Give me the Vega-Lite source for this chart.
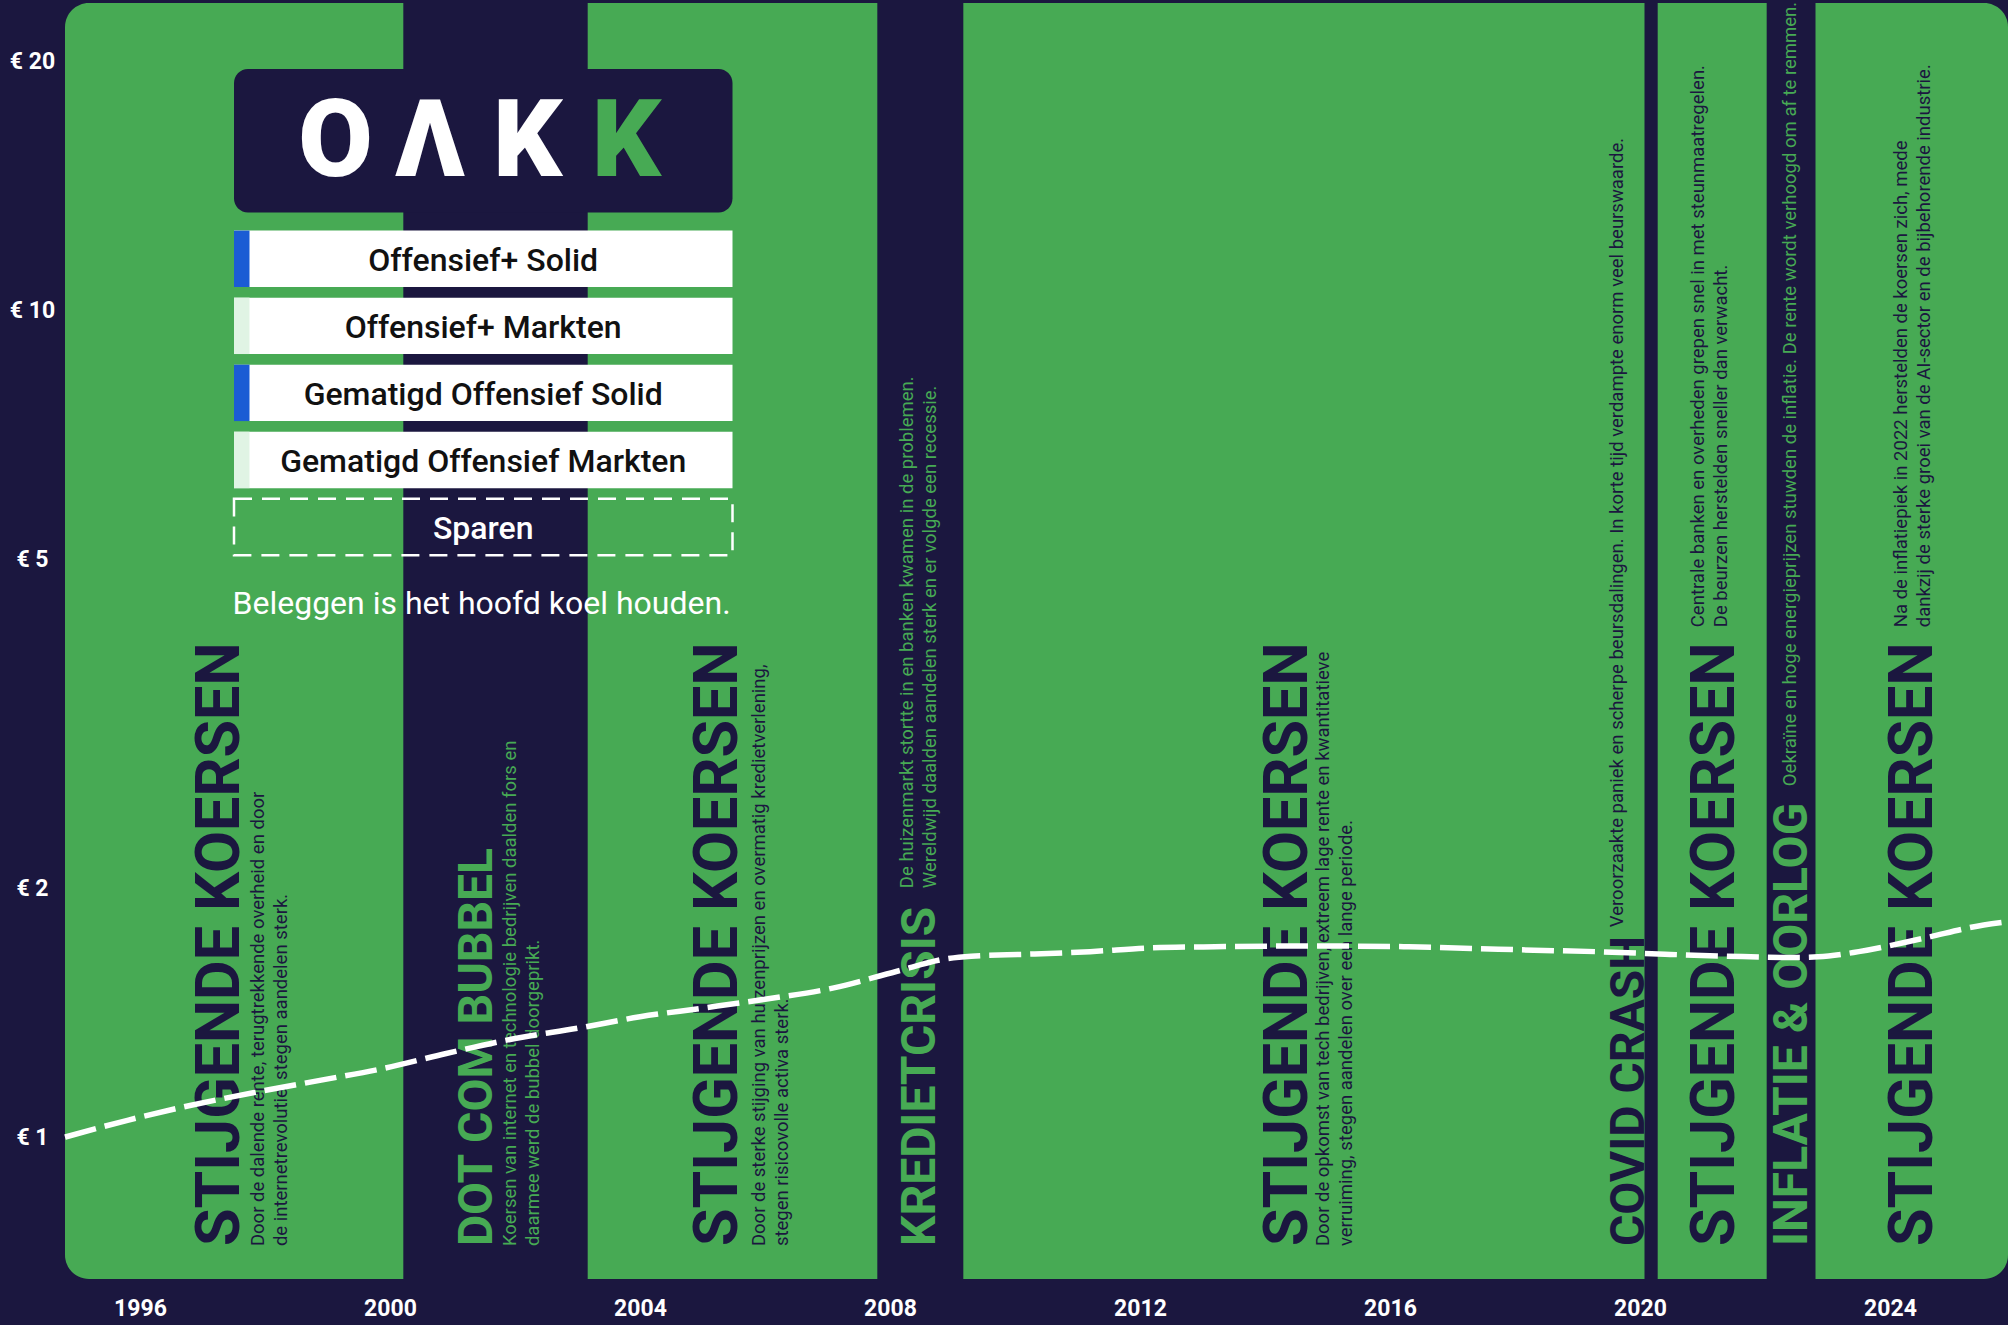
{
  "$schema": "https://vega.github.io/schema/vega-lite/v6.json",
  "width": 1943,
  "height": 1276,
  "autosize": {"type": "none"},
  "padding": {"left": 65, "top": 3, "right": 0, "bottom": 46},
  "background": "#1B173F",
  "config": {"view": {"stroke": null}, "text": {"font": "Roboto"}},
  "datasets": {
    "periods": [
      {"period": "STIJGENDE KOERSEN", "phase": "stijging", "start": 1994.8, "end": 2000.213},
      {"period": "DOT COM BUBBEL", "phase": "daling", "start": 2000.213, "end": 2003.163},
      {"period": "STIJGENDE KOERSEN", "phase": "stijging", "start": 2003.163, "end": 2007.797},
      {"period": "KREDIETCRISIS", "phase": "daling", "start": 2007.797, "end": 2009.173},
      {"period": "STIJGENDE KOERSEN", "phase": "stijging", "start": 2009.173, "end": 2020.072},
      {"period": "COVID CRASH", "phase": "daling", "start": 2020.072, "end": 2020.283},
      {"period": "STIJGENDE KOERSEN", "phase": "stijging", "start": 2020.283, "end": 2022.027},
      {"period": "INFLATIE & OORLOG", "phase": "daling", "start": 2022.027, "end": 2022.808},
      {"period": "STIJGENDE KOERSEN", "phase": "stijging", "start": 2022.808, "end": 2025.888}
    ],
    "labels": [
      {"period": "STIJGENDE KOERSEN", "kind": "title", "text": "STIJGENDE KOERSEN", "year": 1997.294, "value": 0.7383},
      {"period": "DOT COM BUBBEL", "kind": "title", "text": "DOT COM BUBBEL", "year": 2001.41, "value": 0.7383},
      {"period": "STIJGENDE KOERSEN", "kind": "title", "text": "STIJGENDE KOERSEN", "year": 2005.267, "value": 0.7383},
      {"period": "KREDIETCRISIS", "kind": "title", "text": "KREDIETCRISIS", "year": 2008.502, "value": 0.7383},
      {"period": "STIJGENDE KOERSEN", "kind": "title", "text": "STIJGENDE KOERSEN", "year": 2014.387, "value": 0.7383},
      {"period": "COVID CRASH", "kind": "title", "text": "COVID CRASH", "year": 2019.842, "value": 0.7383},
      {"period": "STIJGENDE KOERSEN", "kind": "title", "text": "STIJGENDE KOERSEN", "year": 2021.214, "value": 0.7383},
      {"period": "INFLATIE & OORLOG", "kind": "title", "text": "INFLATIE & OORLOG", "year": 2022.45, "value": 0.7383},
      {"period": "STIJGENDE KOERSEN", "kind": "title", "text": "STIJGENDE KOERSEN", "year": 2024.382, "value": 0.7383},
      {"period": "STIJGENDE KOERSEN", "kind": "desc", "text": "Door de dalende rente, terugtrekkende overheid en door\nde internetrevolutie, stegen aandelen sterk.", "year": 1997.979, "value": 0.7383},
      {"period": "DOT COM BUBBEL", "kind": "desc", "text": "Koersen van internet en technologie bedrijven daalden fors en\ndaarmee werd de bubbel doorgeprikt.", "year": 2002.022, "value": 0.7383},
      {"period": "STIJGENDE KOERSEN", "kind": "desc", "text": "Door de sterke stijging van huizenprijzen en overmatig kredietverlening,\nstegen risicovolle activa sterk.", "year": 2005.995, "value": 0.7383},
      {"period": "KREDIETCRISIS", "kind": "desc", "text": "De huizenmarkt stortte in en banken kwamen in de problemen.\nWereldwijd daalden aandelen sterk en er volgde een recessie.", "year": 2008.368, "value": 2.0},
      {"period": "STIJGENDE KOERSEN", "kind": "desc", "text": "Door de opkomst van tech bedrijven, extreem lage rente en kwantitatieve\nverruiming, stegen aandelen over een lange periode.", "year": 2015.03, "value": 0.7383},
      {"period": "COVID CRASH", "kind": "desc", "text": "Veroorzaakte paniek en scherpe beursdalingen. In korte tijd verdampte enorm veel beurswaarde.", "year": 2019.728, "value": 1.794},
      {"period": "STIJGENDE KOERSEN", "kind": "desc", "text": "Centrale banken en overheden grepen snel in met steunmaatregelen.\nDe beurzen herstelden sneller dan verwacht.", "year": 2021.016, "value": 4.136},
      {"period": "INFLATIE & OORLOG", "kind": "desc", "text": "Oekraïne en hoge energieprijzen stuwden de inflatie. De rente wordt verhoogd om af te remmen.", "year": 2022.496, "value": 2.657},
      {"period": "STIJGENDE KOERSEN", "kind": "desc", "text": "Na de inflatiepiek in 2022 herstelden de koersen zich, mede\ndankzij de sterke groei van de AI-sector en de bijbehorende industrie.", "year": 2024.264, "value": 4.136}
    ],
    "sparen": [
      {"year": 1994.8, "value": 1.0},
      {"year": 1995.8, "value": 1.048},
      {"year": 1996.8, "value": 1.092},
      {"year": 1997.9, "value": 1.135},
      {"year": 1998.9, "value": 1.172},
      {"year": 1999.9, "value": 1.211},
      {"year": 2000.9, "value": 1.262},
      {"year": 2002.0, "value": 1.316},
      {"year": 2003.0, "value": 1.354},
      {"year": 2004.0, "value": 1.398},
      {"year": 2005.0, "value": 1.432},
      {"year": 2006.0, "value": 1.468},
      {"year": 2007.1, "value": 1.515},
      {"year": 2008.1, "value": 1.586},
      {"year": 2008.9, "value": 1.643},
      {"year": 2009.3, "value": 1.655},
      {"year": 2010.2, "value": 1.664},
      {"year": 2011.2, "value": 1.676},
      {"year": 2012.2, "value": 1.694},
      {"year": 2013.2, "value": 1.699},
      {"year": 2014.2, "value": 1.702},
      {"year": 2015.3, "value": 1.702},
      {"year": 2016.3, "value": 1.699},
      {"year": 2017.3, "value": 1.691},
      {"year": 2018.3, "value": 1.683},
      {"year": 2019.4, "value": 1.675},
      {"year": 2020.4, "value": 1.664},
      {"year": 2021.4, "value": 1.655},
      {"year": 2022.4, "value": 1.649},
      {"year": 2022.85, "value": 1.652},
      {"year": 2023.5, "value": 1.676},
      {"year": 2024.5, "value": 1.737},
      {"year": 2025.5, "value": 1.805},
      {"year": 2025.888, "value": 1.822}
    ],
    "legend": [
      {"label": "Offensief+ Solid", "fund": "Solid", "order": 1},
      {"label": "Offensief+ Markten", "fund": "Markten", "order": 2},
      {"label": "Gematigd Offensief Solid", "fund": "Solid", "order": 3},
      {"label": "Gematigd Offensief Markten", "fund": "Markten", "order": 4},
      {"label": "Sparen", "fund": "Sparen", "order": 5}
    ]
  },
  "layer": [
    {
      "layer": [
        {
          "data": {"name": "periods"},
          "transform": [{"aggregate": [{"op": "min", "field": "start", "as": "start"}, {"op": "max", "field": "end", "as": "end"}]}],
          "mark": {"type": "rect", "color": "#47AA54", "cornerRadius": 24},
          "encoding": {
            "x": {"field": "start", "type": "quantitative", "scale": {"domain": [1994.8, 2025.888], "nice": false, "zero": false}, "title": null,
              "axis": {"values": [1996, 2000, 2004, 2008, 2012, 2016, 2020, 2024], "format": "d", "title": null, "domain": false, "ticks": false, "grid": false, "labelFont": "Roboto", "labelFontWeight": "bold", "labelFontSize": 23, "labelColor": "white", "labelPadding": 18, "labelFlush": false, "labelOverlap": false}},
            "x2": {"field": "end"}
          }
        },
        {
          "data": {"name": "periods"},
          "transform": [{"filter": "datum.phase === 'daling'"}],
          "mark": {"type": "rect", "color": "#1B173F"},
          "encoding": {
            "x": {"field": "start", "type": "quantitative", "scale": {"domain": [1994.8, 2025.888], "nice": false, "zero": false}, "title": null},
            "x2": {"field": "end"}
          }
        },
        {
          "data": {"name": "labels"},
          "transform": [{"filter": "datum.kind === 'title'"}],
          "mark": {"type": "text", "angle": 270, "align": "left", "baseline": "middle", "font": "Roboto", "fontWeight": "bold"},
          "encoding": {
            "x": {"field": "year", "type": "quantitative", "scale": {"domain": [1994.8, 2025.888], "nice": false, "zero": false}, "title": null},
            "y": {"field": "value", "type": "quantitative", "scale": {"type": "log", "domain": [0.6737, 23.51], "nice": false}, "title": null},
            "text": {"field": "text"},
            "size": {"condition": {"test": "datum.period === 'STIJGENDE KOERSEN'", "value": 61}, "value": 48},
            "color": {"condition": {"test": "indexof(['DOT COM BUBBEL','KREDIETCRISIS','INFLATIE & OORLOG'], datum.period) >= 0", "value": "#47AA54"}, "value": "#1B173F"}
          }
        },
        {
          "data": {"name": "labels"},
          "transform": [{"filter": "datum.kind === 'desc'"}],
          "mark": {"type": "text", "angle": 270, "align": "left", "baseline": "alphabetic", "font": "Roboto", "fontSize": 18.5, "lineHeight": 23, "lineBreak": "\n"},
          "encoding": {
            "x": {"field": "year", "type": "quantitative", "scale": {"domain": [1994.8, 2025.888], "nice": false, "zero": false}, "title": null},
            "y": {"field": "value", "type": "quantitative", "scale": {"type": "log", "domain": [0.6737, 23.51], "nice": false}, "title": null},
            "text": {"field": "text"},
            "color": {"condition": {"test": "indexof(['DOT COM BUBBEL','KREDIETCRISIS','INFLATIE & OORLOG'], datum.period) >= 0", "value": "#47AA54"}, "value": "#1B173F"}
          }
        },
        {
          "data": {"name": "sparen"},
          "mark": {"type": "line", "color": "white", "strokeWidth": 5.5, "strokeDash": [32, 9], "interpolate": "monotone"},
          "encoding": {
            "x": {"field": "year", "type": "quantitative", "scale": {"domain": [1994.8, 2025.888], "nice": false, "zero": false}, "title": null},
            "y": {"field": "value", "type": "quantitative", "scale": {"type": "log", "domain": [0.6737, 23.51], "nice": false}, "title": null,
              "axis": {"values": [1, 2, 5, 10, 20], "labelExpr": "'€ ' + datum.value", "title": null, "domain": false, "ticks": false, "tickSize": 0, "grid": false, "labelFont": "Roboto", "labelFontWeight": "bold", "labelFontSize": 23, "labelColor": "white", "labelAlign": "center", "labelPadding": 33, "labelOverlap": false, "labelFlush": false}}
          }
        },
        {
          "data": {"values": [{}]},
          "mark": {"type": "rect", "color": "#1B173F", "cornerRadius": 14},
          "encoding": {
            "x": {"datum": 1997.504, "type": "quantitative", "scale": {"domain": [1994.8, 2025.888], "nice": false, "zero": false}, "title": null},
            "x2": {"datum": 2005.48},
            "y": {"datum": 19.57, "type": "quantitative", "scale": {"type": "log", "domain": [0.6737, 23.51], "nice": false}, "title": null},
            "y2": {"datum": 13.12}
          }
        },
        {
          "data": {"values": [{}]},
          "mark": {"type": "text", "text": "O", "font": "Roboto", "fontWeight": 900, "fontSize": 108, "align": "center", "baseline": "alphabetic", "color": "white"},
          "encoding": {
            "x": {"datum": 1999.13, "type": "quantitative", "scale": {"domain": [1994.8, 2025.888], "nice": false, "zero": false}, "title": null},
            "y": {"datum": 14.51, "type": "quantitative", "scale": {"type": "log", "domain": [0.6737, 23.51], "nice": false}, "title": null}
          }
        },
        {
          "data": {"values": [{}]},
          "mark": {"type": "text", "text": "Λ", "font": "Roboto", "fontWeight": 900, "fontSize": 108, "align": "center", "baseline": "alphabetic", "color": "white"},
          "encoding": {
            "x": {"datum": 2000.64, "type": "quantitative", "scale": {"domain": [1994.8, 2025.888], "nice": false, "zero": false}, "title": null},
            "y": {"datum": 14.51, "type": "quantitative", "scale": {"type": "log", "domain": [0.6737, 23.51], "nice": false}, "title": null}
          }
        },
        {
          "data": {"values": [{}]},
          "mark": {"type": "text", "text": "K", "font": "Roboto", "fontWeight": 900, "fontSize": 108, "align": "center", "baseline": "alphabetic", "color": "white"},
          "encoding": {
            "x": {"datum": 2002.2, "type": "quantitative", "scale": {"domain": [1994.8, 2025.888], "nice": false, "zero": false}, "title": null},
            "y": {"datum": 14.51, "type": "quantitative", "scale": {"type": "log", "domain": [0.6737, 23.51], "nice": false}, "title": null}
          }
        },
        {
          "data": {"values": [{}]},
          "mark": {"type": "text", "text": "K", "font": "Roboto", "fontWeight": 900, "fontSize": 108, "align": "center", "baseline": "alphabetic", "color": "#47AA54"},
          "encoding": {
            "x": {"datum": 2003.78, "type": "quantitative", "scale": {"domain": [1994.8, 2025.888], "nice": false, "zero": false}, "title": null},
            "y": {"datum": 14.51, "type": "quantitative", "scale": {"type": "log", "domain": [0.6737, 23.51], "nice": false}, "title": null}
          }
        },
        {
          "data": {"values": [{}]},
          "mark": {"type": "text", "text": "Beleggen is het hoofd koel houden.", "font": "Roboto", "fontSize": 32, "align": "left", "baseline": "alphabetic", "color": "white"},
          "encoding": {
            "x": {"datum": 1997.48, "type": "quantitative", "scale": {"domain": [1994.8, 2025.888], "nice": false, "zero": false}, "title": null},
            "y": {"datum": 4.288, "type": "quantitative", "scale": {"type": "log", "domain": [0.6737, 23.51], "nice": false}, "title": null}
          }
        }
      ]
    },
    {
      "data": {"name": "legend"},
      "layer": [
        {
          "transform": [{"filter": "datum.fund !== 'Sparen'"}],
          "mark": {"type": "rect", "color": "white", "height": 56.4},
          "encoding": {
            "x": {"datum": 1997.504, "type": "quantitative", "scale": {"domain": [1994.8, 2025.888], "nice": false, "zero": false}, "title": null},
            "x2": {"datum": 2005.48},
            "y": {"field": "order", "type": "quantitative", "scale": {"domain": [-2.815, 16.216], "reverse": true, "nice": false, "zero": false}, "axis": null, "title": null}
          }
        },
        {
          "transform": [{"filter": "datum.fund !== 'Sparen'"}],
          "mark": {"type": "rect", "height": 56.4},
          "encoding": {
            "x": {"datum": 1997.504, "type": "quantitative", "scale": {"domain": [1994.8, 2025.888], "nice": false, "zero": false}, "title": null},
            "x2": {"datum": 1997.752},
            "y": {"field": "order", "type": "quantitative", "scale": {"domain": [-2.815, 16.216], "reverse": true, "nice": false, "zero": false}, "axis": null, "title": null},
            "color": {"field": "fund", "type": "nominal", "scale": {"domain": ["Solid", "Markten"], "range": ["#1B5CD4", "#E0F4E4"]}, "legend": null}
          }
        },
        {
          "transform": [{"filter": "datum.fund === 'Sparen'"}],
          "mark": {"type": "rect", "height": 56.4, "fill": "transparent", "stroke": "white", "strokeWidth": 2.5, "strokeDash": [18, 10]},
          "encoding": {
            "x": {"datum": 1997.504, "type": "quantitative", "scale": {"domain": [1994.8, 2025.888], "nice": false, "zero": false}, "title": null},
            "x2": {"datum": 2005.48},
            "y": {"field": "order", "type": "quantitative", "scale": {"domain": [-2.815, 16.216], "reverse": true, "nice": false, "zero": false}, "axis": null, "title": null}
          }
        },
        {
          "mark": {"type": "text", "font": "Roboto", "fontWeight": 500, "fontSize": 32, "align": "center", "baseline": "middle", "dy": 2},
          "encoding": {
            "x": {"datum": 2001.491, "type": "quantitative", "scale": {"domain": [1994.8, 2025.888], "nice": false, "zero": false}, "title": null},
            "y": {"field": "order", "type": "quantitative", "scale": {"domain": [-2.815, 16.216], "reverse": true, "nice": false, "zero": false}, "axis": null, "title": null},
            "text": {"field": "label"},
            "color": {"condition": {"test": "datum.fund === 'Sparen'", "value": "white"}, "value": "#111111"}
          }
        }
      ]
    }
  ],
  "resolve": {"scale": {"y": "independent"}}
}
